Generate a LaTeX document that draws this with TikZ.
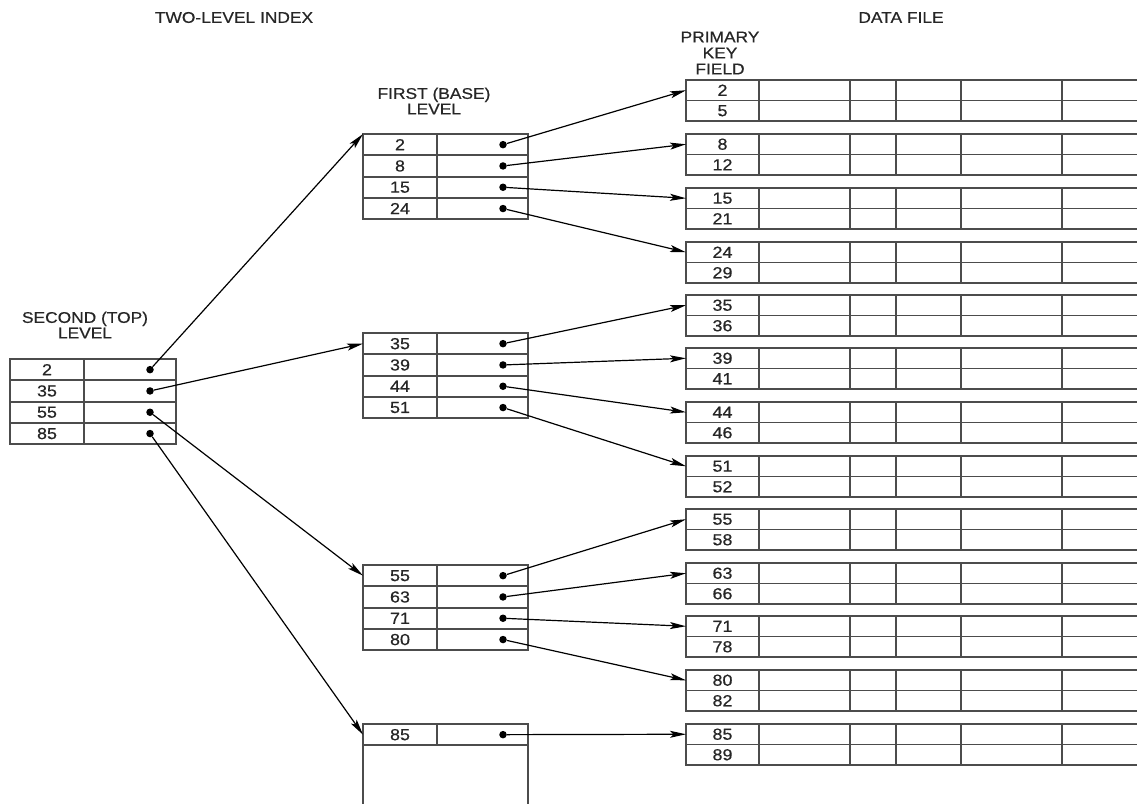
\documentclass[tikz,border=0pt]{standalone}
\usepackage{fontspec}
\setmainfont[FakeStretch=1.12,FakeBold=0.6]{Liberation Sans}
\usetikzlibrary{arrows.meta,calc}
\newcommand\numfont{\fontsize{16}{16}\selectfont}
\begin{document}
\begin{tikzpicture}[x=1pt,y=-1pt,
  tbl/.style={draw=black!70, line width=1.8pt},
  kcell/.style={tbl, minimum width=74pt, minimum height=21.3pt, inner sep=0pt, outer sep=0pt, anchor=north west, font=\numfont, text=black!85},
  pcell/.style={tbl, minimum width=91pt, minimum height=21.3pt, inner sep=0pt, outer sep=0pt, anchor=north west},
  dcell/.style={tbl, minimum width=73pt, minimum height=20.5pt, inner sep=0pt, outer sep=0pt, anchor=north west, font=\numfont, text=black!85},
  ptr/.style={line width=1.2pt, -{Stealth[length=16pt,width=7pt,inset=3.5pt]}},
  dotn/.style={circle, fill=black, inner sep=0pt, minimum size=7.5pt},
  lbl/.style={font=\fontsize{15.5}{15.5}\selectfont, align=center, text=black!85}
]
\useasboundingbox (0,0) rectangle (1137,804);

% titles
\node[lbl] (t1) at (234,17.5) {TWO-LEVEL INDEX};
\node[lbl] (t2) at (901,17.5) {DATA FILE};
\node[lbl, font=\fontsize{15.5}{16}\selectfont] (pk) at (720,53) {PRIMARY\\KEY\\FIELD};
\node[lbl] (fl) at (434,101) {FIRST (BASE)\\LEVEL};
\node[lbl] (sl) at (85,325) {SECOND (TOP)\\LEVEL};

% second level
\foreach \k [count=\i] in {2,35,55,85} {
  \node[kcell] (sk\i) at (10,{359+(\i-1)*21.3}) {\k};
  \node[pcell, minimum width=92pt] (sp\i) at (84,{359+(\i-1)*21.3}) {};
  \node[dotn] (sd\i) at ($(sp\i.east)+(-26,0)$) {};
}

% first level tables
\newcommand\ftable[3]{%
  \foreach \k [count=\i] in {#3} {
    \node[kcell] (f#1k\i) at (363,{#2+(\i-1)*21.3}) {\k};
    \node[pcell] (f#1p\i) at (437,{#2+(\i-1)*21.3}) {};
    \node[dotn] (f#1d\i) at ($(f#1p\i.east)+(-25,0)$) {};
  }%
}
\ftable{1}{134}{2,8,15,24}
\ftable{2}{333}{35,39,44,51}
\ftable{3}{565}{55,63,71,80}
\ftable{4}{724}{85}
\draw[tbl] (f4k1.south west) -- (363,804);
\draw[tbl] (f4p1.south east) -- (528,804);

% data file blocks
\newcommand\dblock[4]{%
  \node[dcell] (d#1a) at (686,#2) {#3};
  \node[dcell] (d#1b) at (686,{#2+20.5}) {#4};
  \foreach \yy in {0,20.5,41} \draw[tbl] (759,{#2+\yy}) -- (1137,{#2+\yy});
  \foreach \xx in {850,896,961,1062} \draw[tbl] (\xx,#2) -- (\xx,{#2+41});
}
\dblock{1}{80}{2}{5}
\dblock{2}{134}{8}{12}
\dblock{3}{188}{15}{21}
\dblock{4}{242}{24}{29}
\dblock{5}{295}{35}{36}
\dblock{6}{348}{39}{41}
\dblock{7}{402}{44}{46}
\dblock{8}{456}{51}{52}
\dblock{9}{509}{55}{58}
\dblock{10}{563}{63}{66}
\dblock{11}{616}{71}{78}
\dblock{12}{670}{80}{82}
\dblock{13}{724}{85}{89}

% second level pointers
\draw[ptr] (sd1) -- (f1k1.north west);
\draw[ptr] (sd2) -- (f2k1.west);
\draw[ptr] (sd3) -- (f3k1.west);
\draw[ptr] (sd4) -- (f4k1.west);

% first level pointers
\draw[ptr] (f1d1) -- (d1a.west);
\draw[ptr] (f1d2) -- (d2a.west);
\draw[ptr] (f1d3) -- (d3a.west);
\draw[ptr] (f1d4) -- (d4a.west);
\draw[ptr] (f2d1) -- (d5a.west);
\draw[ptr] (f2d2) -- (d6a.west);
\draw[ptr] (f2d3) -- (d7a.west);
\draw[ptr] (f2d4) -- (d8a.west);
\draw[ptr] (f3d1) -- (d9a.west);
\draw[ptr] (f3d2) -- (d10a.west);
\draw[ptr] (f3d3) -- (d11a.west);
\draw[ptr] (f3d4) -- (d12a.west);
\draw[ptr] (f4d1) -- (d13a.west);
\end{tikzpicture}
\end{document}
